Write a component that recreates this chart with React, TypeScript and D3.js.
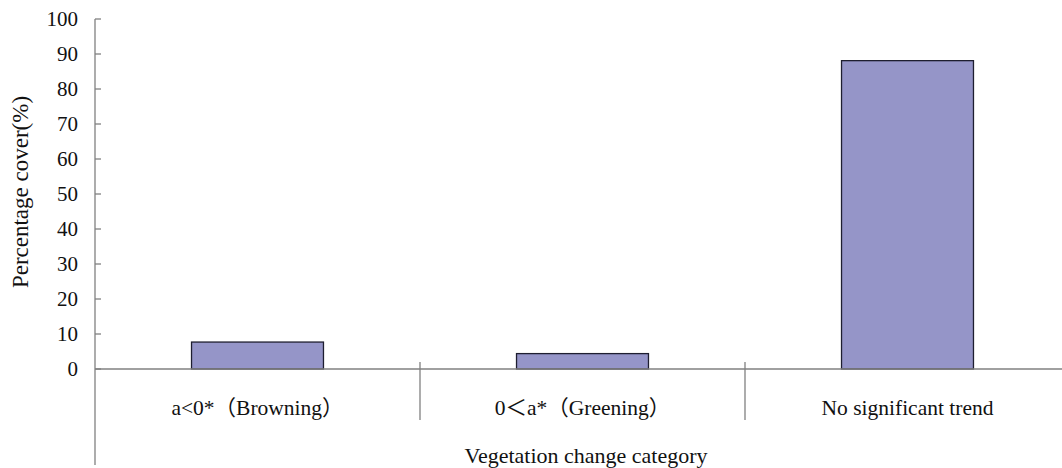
import React from "react";
import * as d3 from "d3";

const categories = ["a<0*（Browning）", "0＜a*（Greening）", "No significant trend"];
const values = [7.7, 4.4, 88.1];
const yTicks = [0, 10, 20, 30, 40, 50, 60, 70, 80, 90, 100];

const W = 1062;
const H = 468;
const left = 95;
const right = 1070;
const top = 19;
const bottom = 369;
const font = "'Liberation Serif', 'Times New Roman', 'Noto Sans CJK SC', serif";

export default function App() {
  const x = d3.scaleBand<string>().domain(categories).range([left, right]).paddingInner(0).paddingOuter(0);
  const y = d3.scaleLinear().domain([0, 100]).range([bottom, top]);
  const barW = x.bandwidth() * 0.406;
  const axisColor = "#808080";
  const boundaries = categories.slice(1).map((c) => x(c) as number);

  return (
    <div style={{ position: "absolute", left: 0, top: 0 }}>
      <svg width={W} height={H} style={{ display: "block", background: "#fff" }}>
        {categories.map((c, i) => (
          <rect
            key={c}
            x={(x(c) as number) + x.bandwidth() / 2 - barW / 2}
            y={y(values[i])}
            width={barW}
            height={y(0) - y(values[i])}
            fill="#9595c8"
            stroke="#1e1e30"
            strokeWidth={1.3}
          />
        ))}
        {/* y axis */}
        <line x1={left} x2={left} y1={top} y2={465} stroke={axisColor} strokeWidth={1.3} />
        {yTicks.map((t) => (
          <g key={t}>
            <line x1={left} x2={left + 6} y1={y(t)} y2={y(t)} stroke={axisColor} strokeWidth={1.3} />
            <text
              x={78}
              y={y(t)}
              dy="0.35em"
              textAnchor="end"
              fontFamily={font}
              fontSize={21}
              fill="#111"
            >
              {t}
            </text>
          </g>
        ))}
        {/* x axis */}
        <line x1={left} x2={right} y1={y(0)} y2={y(0)} stroke={axisColor} strokeWidth={1.3} />
        {boundaries.map((b, i) => (
          <line key={i} x1={b} x2={b} y1={362} y2={420} stroke={axisColor} strokeWidth={1.3} />
        ))}
        {categories.map((c) => (
          <text
            key={c}
            x={(x(c) as number) + x.bandwidth() / 2}
            y={407}
            dy="0.35em"
            textAnchor="middle"
            fontFamily={font}
            fontSize={21.5}
            fill="#111"
          >
            {c}
          </text>
        ))}
        <text
          x={586}
          y={455}
          dy="0.35em"
          textAnchor="middle"
          fontFamily={font}
          fontSize={22}
          fill="#111"
        >
          Vegetation change category
        </text>
        <text
          transform={`translate(20, 192) rotate(-90)`}
          dy="0.35em"
          textAnchor="middle"
          fontFamily={font}
          fontSize={23}
          fill="#111"
        >
          Percentage cover(%)
        </text>
      </svg>
    </div>
  );
}
